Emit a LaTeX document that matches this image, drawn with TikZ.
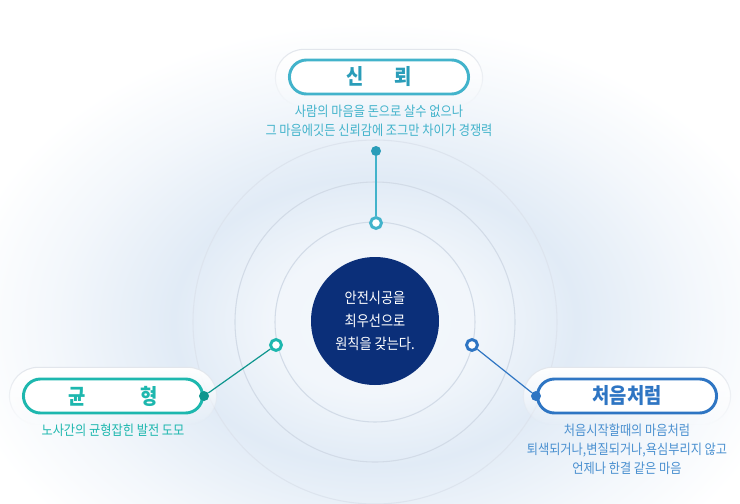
\documentclass[tikz,border=0pt]{standalone}
\usepackage{fontspec}
\newfontfamily\kr[FakeStretch=0.88]{Noto Sans CJK KR}
\usetikzlibrary{positioning}
\usetikzlibrary{shapes.misc}
\usetikzlibrary{fadings}
\definecolor{NAVY}{HTML}{0B2F79}
\definecolor{CYAN_C}{HTML}{42B3CB}
\definecolor{CYAN_E}{HTML}{2A9DB9}
\definecolor{TEAL_C}{HTML}{1DB7AE}
\definecolor{TEAL_E}{HTML}{0E968E}
\definecolor{BLUE_C}{HTML}{4A90D0}
\definecolor{BLUE_E}{HTML}{2E75C3}
\definecolor{RING}{HTML}{D2DBE7}
\definecolor{RING_L}{HTML}{DDE4EE}
\definecolor{GLOW}{HTML}{E1EBF6}
\definecolor{HALO}{HTML}{E2E6EC}
\pgfdeclareradialshading{glow}{\pgfpoint{0bp}{0bp}}{color(0bp)=(GLOW!35!white); color(6bp)=(GLOW!45!white); color(12bp)=(GLOW); color(19bp)=(GLOW!40!white); color(25bp)=(white); color(50bp)=(white)}
\tikzset{
	every node/.style = {font=\kr},
	ring/.style = {draw=RING, line width=.8pt},
	halo/.style = {rounded rectangle, fill=white, draw=HALO, line width=.8pt,
		minimum width=162pt, minimum height=43pt, path fading=south},
	pill/.style = {rounded rectangle, draw=#1, fill=white, line width=2.2pt,
		minimum width=141pt, minimum height=25.5pt,
		font=\kr\bfseries\fontsize{16}{19}\selectfont},
	note/.style = {text=#1, align=center, inner sep=0pt,
		font=\kr\fontsize{10.4}{14.1}\selectfont},
	knob/.style = {circle, draw=#1, fill=white, line width=2.2pt,
		inner sep=0pt, minimum size=8.2pt},
	dot/.style = {circle, fill=#1, inner sep=0pt, minimum size=7.5pt},
	wire/.style = {draw=#1, line width=.9pt}
}
\begin{document}
\begin{tikzpicture}[x=.75pt, y=-.75pt]
	\useasboundingbox (0,0) rectangle (740,504);
	% background glow
	\scope
	\clip (0,0) rectangle (740,504);
	\shade[shading=glow] (-45,22) rectangle (795,622);
	\endscope
	% rings
	\draw[ring] (375,322) circle[radius=100];
	\draw[ring] (375,322) circle[radius=140];
	\draw[ring, draw=RING_L] (375,322) circle[radius=182];
	% centre
	\node[circle, fill=NAVY, minimum size=96pt, align=center, text=white,
	      font=\kr\fontsize{11.25}{17.25}\selectfont] (core) at (375,321)
	      {안전시공을\\최우선으로\\원칙을 갖는다.};
	% halos
	\node[halo] (trusthalo) at (379,78) {};
	\node[halo] (balhalo) at (113,396) {};
	\node[halo] (orighalo) at (627,396) {};
	% pills
	\node[pill=CYAN_C, text=CYAN_E] (trust) at (379,77) {신\hspace{23pt}뢰};
	\node[pill=TEAL_C, text=TEAL_C] (balance) at (113,396) {균\hspace{41.5pt}형\hspace{7pt}};
	\node[pill=BLUE_E, text=BLUE_E] (origin) at (627,396) {처음처럼};
	% notes
	\node[note=CYAN_C, below=7pt of trust] (trustnote)
	      {사람의 마음을 돈으로 살수 없으나\\그 마음에깃든 신뢰감에 조그만 차이가 경쟁력};
	\node[note=TEAL_C, below=7pt of balance] (balnote) {노사간의 균형잡힌 발전 도모};
	\node[note=BLUE_C, below=7pt of origin] (orignote)
	      {처음시작할때의 마음처럼\\퇴색되거나,변질되거나,욕심부리지 않고\\언제나 한결 같은 마음};
	% knobs and dots
	\node[knob=CYAN_C] (trustknob) at (376,223) {};
	\node[knob=TEAL_C] (balknob) at (276,345) {};
	\node[knob=BLUE_E] (origknob) at (472,345) {};
	\node[dot=CYAN_E] (trustdot) at (376,151) {};
	\node[dot=TEAL_E] (baldot) at (balance.east) {};
	\node[dot=BLUE_E] (origdot) at (origin.west) {};
	\draw[wire=CYAN_C] (trustdot) -- (trustknob);
	\draw[wire=TEAL_E] (baldot) -- (balknob);
	\draw[wire=BLUE_E] (origdot) -- (origknob);
\end{tikzpicture}
\end{document}
